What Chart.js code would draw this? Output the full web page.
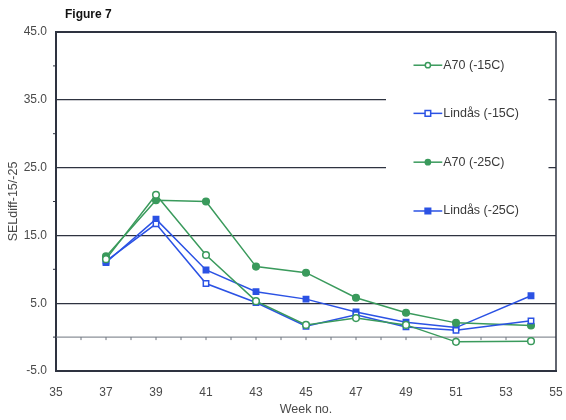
<!DOCTYPE html>
<html lang="en">
<head>
    <meta charset="UTF-8">
    <title>Figure 7</title>
    <script src="https://cdn.jsdelivr.net/npm/chart.js"></script>
    <style>
        html, body { margin: 0; padding: 0; background: #ffffff; }
        #wrap { position: relative; width: 566px; height: 420px; }
    </style>
</head>
<body>
<div id="wrap"><canvas id="fig7"></canvas></div>

<script type="text/javascript">

    // values
    const weeks = [37, 39, 41, 43, 45, 47, 49, 51, 54];
    const a70_15 = [11.5, 21.0, 12.1, 5.3, 1.8, 2.8, 1.8, -0.7, -0.6];
    const lindas_15 = [11.2, 16.7, 7.9, 5.1, 1.6, 3.3, 1.5, 1.0, 2.4];
    const a70_25 = [11.9, 20.2, 20.0, 10.4, 9.5, 5.8, 3.6, 2.1, 1.7];
    const lindas_25 = [11.0, 17.4, 9.9, 6.7, 5.6, 3.7, 2.2, 1.4, 6.1];

    const seriesNames = ['A70 (-15C)', 'Lindås (-15C)', 'A70 (-25C)', 'Lindås (-25C)'];

    const green = '#3a9a5c';
    const blue = '#2b52e4';
    const axisColor = '#2e3340';
    const textColor = '#4a4a4a';
    const font = "'Liberation Sans', Arial, sans-serif";

    function toPoints(vals) {
        return weeks.map((w, i) => ({ x: w, y: vals[i] }));
    }

    function makeSet(label, vals, color, style, filled) {
        return {
            label: label,
            data: toPoints(vals),
            borderColor: color,
            backgroundColor: filled ? color : '#ffffff',
            pointBackgroundColor: filled ? color : '#ffffff',
            pointBorderColor: color,
            pointStyle: style,
            pointRadius: style === 'rect' ? 3.8 : 3.3,
            pointBorderWidth: 1.5,
            borderWidth: 1.5,
            fill: false,
            tension: 0
        };
    }

    const datasets = [
        makeSet(seriesNames[0], a70_15, green, 'circle', false),
        makeSet(seriesNames[1], lindas_15, blue, 'rect', false),
        makeSet(seriesNames[2], a70_25, green, 'circle', true),
        makeSet(seriesNames[3], lindas_25, blue, 'rect', true)
    ];

    // zero line, minor ticks, top/right frame
    const framePlugin = {
        id: 'frame',
        beforeDatasetsDraw(chart) {
            const {ctx, chartArea: a, scales: {x, y}} = chart;
            ctx.save();
            const y0 = y.getPixelForValue(0);
            ctx.strokeStyle = '#6e747f';
            ctx.lineWidth = 1;
            ctx.beginPath();
            ctx.moveTo(a.left, y0);
            ctx.lineTo(a.right, y0);
            for (let w = 36; w < 55; w++) {
                const px = x.getPixelForValue(w);
                ctx.moveTo(px, y0);
                ctx.lineTo(px, y0 + 3);
            }
            ctx.stroke();
            // minor ticks on the left axis
            ctx.strokeStyle = axisColor;
            ctx.beginPath();
            for (let v = 0; v <= 40; v += 10) {
                const py = y.getPixelForValue(v);
                ctx.moveTo(a.left - 3, py);
                ctx.lineTo(a.left, py);
            }
            ctx.stroke();
            // legend box hides the grid lines behind it
            ctx.fillStyle = '#ffffff';
            ctx.fillRect(x.getPixelForValue(48.2), y.getPixelForValue(43.5),
                x.getPixelForValue(54.7) - x.getPixelForValue(48.2),
                y.getPixelForValue(16.5) - y.getPixelForValue(43.5));
            // top and right frame
            ctx.strokeStyle = axisColor;
            ctx.lineWidth = 2;
            ctx.beginPath();
            ctx.moveTo(a.left, a.top);
            ctx.lineTo(a.right, a.top);
            ctx.stroke();
            ctx.lineWidth = 1.5;
            ctx.beginPath();
            ctx.moveTo(a.right, a.top);
            ctx.lineTo(a.right, a.bottom);
            ctx.stroke();
            ctx.restore();
        },
        afterDraw(chart) {
            const {ctx, scales: {x, y}} = chart;
            ctx.save();
            // figure caption
            ctx.fillStyle = '#111111';
            ctx.font = 'bold 12px ' + font;
            ctx.textBaseline = 'middle';
            ctx.fillText('Figure 7', 65, 15);

            // legend
            const rows = [40.1, 33.0, 25.8, 18.6];
            const lx0 = x.getPixelForValue(49.3);
            const lx1 = x.getPixelForValue(50.45);
            chart.data.datasets.forEach((ds, i) => {
                const py = y.getPixelForValue(rows[i]);
                ctx.strokeStyle = ds.borderColor;
                ctx.lineWidth = 1.5;
                ctx.beginPath();
                ctx.moveTo(lx0, py);
                ctx.lineTo(lx1, py);
                ctx.stroke();
                const mx = (lx0 + lx1) / 2;
                ctx.fillStyle = ds.pointBackgroundColor;
                ctx.beginPath();
                if (ds.pointStyle === 'rect') {
                    ctx.rect(mx - 2.8, py - 2.8, 5.6, 5.6);
                } else {
                    ctx.arc(mx, py, 2.6, 0, Math.PI * 2);
                }
                ctx.fill();
                ctx.stroke();
                ctx.fillStyle = '#3a3a3a';
                ctx.font = '12.5px ' + font;
                ctx.textBaseline = 'middle';
                ctx.fillText(ds.label, lx1 + 1, py);
            });
            ctx.restore();
        }
    };

    new Chart(
        document.getElementById('fig7').getContext('2d'),
        {
            type: 'line',
            data: { datasets: datasets },
            options: {
                responsive: true,
                maintainAspectRatio: false,
                animation: false,
                layout: { padding: { top: 32, right: 10, left: 0, bottom: 0 } },
                plugins: {
                    legend: { display: false },
                    tooltip: { enabled: false },
                    title: { display: false }
                },
                scales: {
                    x: {
                        type: 'linear',
                        min: 35,
                        max: 55,
                        afterFit: (s) => {
                            s.height = 49;
                            s.paddingLeft = 0;
                            s.paddingRight = 0;
                        },
                        ticks: {
                            stepSize: 2,
                            padding: 14,
                            color: textColor,
                            font: { family: font, size: 12 }
                        },
                        grid: { display: false, drawTicks: false },
                        border: { display: true, color: axisColor, width: 2 },
                        title: {
                            display: true,
                            text: 'Week no.',
                            color: textColor,
                            font: { family: font, size: 12.5 },
                            padding: { top: 0, bottom: 2.5 }
                        }
                    },
                    y: {
                        min: -5,
                        max: 45,
                        afterFit: (s) => { s.width = 56; },
                        ticks: {
                            stepSize: 10,
                            padding: 9,
                            color: textColor,
                            font: { family: font, size: 12 },
                            callback: (v) => v.toFixed(1)
                        },
                        grid: {
                            drawTicks: false,
                            color: axisColor,
                            lineWidth: (c) => (c.tick && (c.tick.value === 45 || c.tick.value === -5)) ? 0 : 1.2
                        },
                        border: { display: true, color: axisColor, width: 2 },
                        title: {
                            display: true,
                            text: 'SELdiff-15/-25',
                            color: textColor,
                            font: { family: font, size: 12.5 },
                            padding: { top: 6, bottom: 0 }
                        }
                    }
                }
            },
            plugins: [framePlugin]
        }
    );
</script>
</body>
</html>
